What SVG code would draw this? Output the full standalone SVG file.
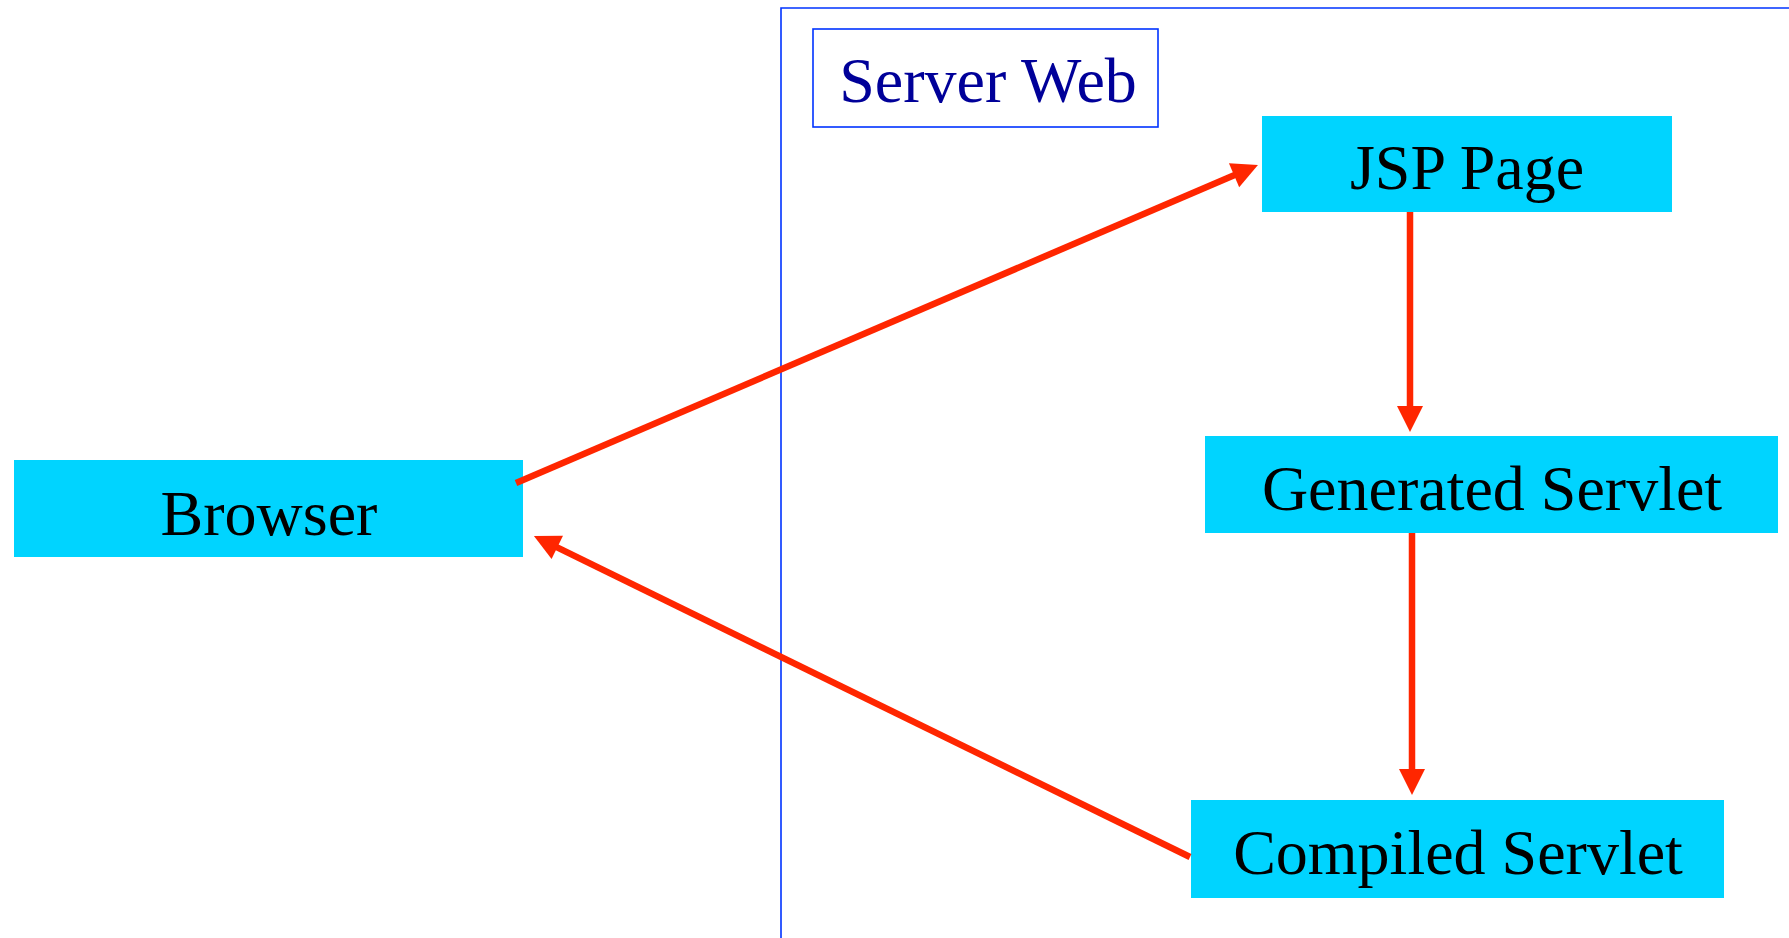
<svg xmlns="http://www.w3.org/2000/svg" width="1789" height="938" viewBox="0 0 1789 938">
  <style>
    .node rect { fill: #00d4ff; }
    .node text { font-family: "Liberation Serif", "Times New Roman", serif; font-size: 64px; fill: #000000; text-anchor: middle; }
    .frame { fill: none; stroke: #0033ff; stroke-width: 1.6; }
    .title { font-family: "Liberation Serif", "Times New Roman", serif; font-size: 64px; fill: #000099; text-anchor: middle; }
    .link { fill: none; stroke: #ff2600; stroke-width: 6.5; marker-end: url(#head); }
  </style>
  <defs>
    <marker id="head" markerUnits="userSpaceOnUse" markerWidth="26" markerHeight="26" refX="7" refY="13" orient="auto" overflow="visible">
      <path d="M0,0 L26,13 L0,26 z" fill="#ff2600"/>
    </marker>
  </defs>

  <rect width="1789" height="938" fill="#ffffff"/>

  <!-- web server boundary -->
  <g id="server-web">
    <path class="frame" d="M781,938 V8 H1789"/>
    <rect class="frame" x="813" y="29" width="345" height="98"/>
    <text class="title" x="988" y="102">Server Web</text>
  </g>

  <g id="browser" class="node">
    <rect x="14" y="460" width="509" height="97"/>
    <text x="269" y="535">Browser</text>
  </g>

  <g id="jsp-page" class="node">
    <rect x="1262" y="116" width="410" height="96"/>
    <text x="1467" y="189">JSP Page</text>
  </g>

  <g id="generated-servlet" class="node">
    <rect x="1205" y="436" width="573" height="97"/>
    <text x="1492" y="510">Generated Servlet</text>
  </g>

  <g id="compiled-servlet" class="node">
    <rect x="1191" y="800" width="533" height="98"/>
    <text x="1458" y="874">Compiled Servlet</text>
  </g>

  <g id="connectors">
    <line class="link" x1="516" y1="483" x2="1240.5" y2="172.5"/>
    <line class="link" x1="1410" y1="212" x2="1410" y2="413"/>
    <line class="link" x1="1412" y1="533" x2="1412" y2="776"/>
    <line class="link" x1="1190" y1="857" x2="551" y2="544.3"/>
  </g>
</svg>
